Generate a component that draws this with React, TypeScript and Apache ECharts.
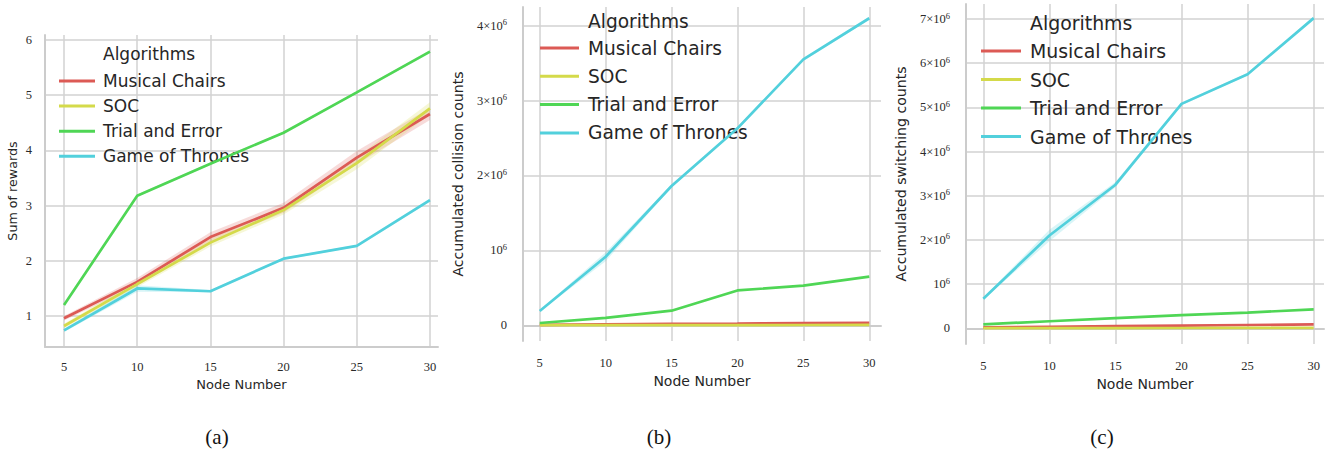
import React, { useEffect, useRef } from "react";
import * as echarts from "echarts";

// ---------- data ----------
const nodeNumbers = [5, 10, 15, 20, 25, 30];
const algorithms = ["Musical Chairs", "SOC", "Trial and Error", "Game of Thrones"];
const colors = ["#dc5a55", "#d4da4a", "#4fd655", "#52d0dc"];

// (a) Sum of rewards
const rewardsMC = [0.96, 1.62, 2.43, 2.96, 3.87, 4.66];
const rewardsSOC = [0.82, 1.58, 2.33, 2.92, 3.77, 4.76];
const rewardsTE = [1.2, 3.18, 3.76, 4.32, 5.05, 5.79];
const rewardsGoT = [0.74, 1.5, 1.45, 2.04, 2.27, 3.1];
const rewardsErrMC = [0.04, 0.07, 0.09, 0.09, 0.12, 0.11];
const rewardsErrSOC = [0.04, 0.06, 0.07, 0.08, 0.11, 0.11];
const rewardsErrTE = [0.02, 0.02, 0.02, 0.02, 0.02, 0.03];
const rewardsErrGoT = [0.03, 0.06, 0.02, 0.02, 0.02, 0.03];

// (b) Accumulated collision counts
const collisionMC = [5000, 12000, 18000, 22000, 28000, 33000];
const collisionSOC = [1500, 2000, 2500, 3000, 3500, 4000];
const collisionTE = [30000, 100000, 195000, 465000, 530000, 650000];
const collisionGoT = [190000, 915000, 1860000, 2630000, 3550000, 4100000];
const collisionErrGoT = [10000, 60000, 20000, 20000, 20000, 20000];

// (c) Accumulated switching counts
const switchingMC = [20000, 35000, 50000, 62000, 75000, 90000];
const switchingSOC = [4000, 5000, 6000, 7000, 8000, 9000];
const switchingTE = [90000, 160000, 230000, 300000, 355000, 430000];
const switchingGoT = [670000, 2100000, 3250000, 5080000, 5750000, 7020000];
const switchingErrGoT = [20000, 130000, 60000, 30000, 30000, 30000];

const xTicks = [5, 10, 15, 20, 25, 30];
const yTicksA = [1, 2, 3, 4, 5, 6];
const yTicksB = [0, 1e6, 2e6, 3e6, 4e6];
const yTicksC = [0, 1e6, 2e6, 3e6, 4e6, 5e6, 6e6, 7e6];

const captions = ["(a)", "(b)", "(c)"];

// ---------- helpers ----------
const pairs = (ys: number[]) => nodeNumbers.map((x, i) => [x, ys[i]]);

const TICK_FONT = "'Liberation Serif', 'DejaVu Serif', serif";
const SANS = "'DejaVu Sans', sans-serif";
const GRID_COLOR = "#d2d2d2";

function sciLabel(v: number) {
  if (Math.abs(v) < 1) return "{b|0}";
  const m = Math.round(v / 1e6);
  if (m === 1) return "{b|10}{s|6}";
  return `{b|${m}×10}{s|6}`;
}

function lineSeries(name: string, idx: number, ys: number[], color: string) {
  return {
    name,
    type: "line",
    xAxisIndex: idx,
    yAxisIndex: idx,
    data: pairs(ys),
    symbol: "none",
    lineStyle: { color, width: 2.7 },
    itemStyle: { color },
    z: 5,
  };
}

function bandSeries(idx: number, ys: number[], err: number[], color: string) {
  const rows = nodeNumbers.map((x, i) => [x, ys[i] - err[i], ys[i] + err[i]]);
  return {
    type: "custom",
    xAxisIndex: idx,
    yAxisIndex: idx,
    data: rows,
    silent: true,
    clip: true,
    z: 2,
    encode: { x: 0, y: [1, 2] },
    renderItem: (params: any, api: any) => {
      const i = params.dataIndex;
      if (i >= rows.length - 1) return null;
      const a = rows[i];
      const b = rows[i + 1];
      const pts = [
        api.coord([a[0], a[1]]),
        api.coord([b[0], b[1]]),
        api.coord([b[0], b[2]]),
        api.coord([a[0], a[2]]),
      ];
      return {
        type: "polygon",
        shape: { points: pts },
        style: { fill: color, opacity: 0.22 },
      };
    },
  };
}

const grids = [
  { left: 45, top: 35, width: 393, height: 312 },
  { left: 523, top: 7, width: 358, height: 334 },
  { left: 966, top: 4, width: 358, height: 340 },
];

const xRanges = [
  [3.7, 30.55],
  [3.73, 30.89],
  [3.69, 30.78],
];

const yRanges = [
  [0.44, 6.09],
  [-210000, 4250000],
  [-355000, 7340000],
];

const yNames = ["Sum of rewards", "Accumulated collision counts", "Accumulated switching counts"];
const yTicks = [yTicksA, yTicksB, yTicksC];

const legendCfg = [
  { left: 54, top: 66, itemWidth: 36, fontSize: 17, lineHeight: 20, gap: 5.1, pad: 3, titleX: 103, titleY: 54 },
  { left: 535, top: 32, itemWidth: 39, fontSize: 18.6, lineHeight: 22, gap: 6.3, pad: 4, titleX: 588, titleY: 21 },
  { left: 976, top: 35, itemWidth: 40, fontSize: 18.9, lineHeight: 22, gap: 6.5, pad: 4, titleX: 1030, titleY: 23 },
];

const captionX = [217, 659, 1102];

export default function App() {
  const ref = useRef<HTMLDivElement>(null);

  useEffect(() => {
    if (!ref.current) return;
    const chart = echarts.init(ref.current, undefined, { renderer: "svg" });

    const xAxes = grids.map((_, i) => ({
      type: "value",
      gridIndex: i,
      min: xRanges[i][0],
      max: xRanges[i][1],
      name: "Node Number",
      nameLocation: "middle",
      nameGap: i === 0 ? 29 : 33,
      nameTextStyle: { fontFamily: SANS, fontSize: i === 0 ? 13 : 14, color: "#262626" },
      axisLine: { show: true, lineStyle: { color: "#cccccc", width: 2 } },
      axisTick: { show: false, customValues: xTicks },
      axisLabel: {
        customValues: xTicks,
        fontFamily: TICK_FONT,
        fontSize: 12.5,
        color: "#2a2a2a",
        margin: i === 0 ? 13 : 15,
      },
      splitLine: { show: true, lineStyle: { color: GRID_COLOR, width: 1.5 } },
    }));

    const yAxes = grids.map((_, i) => ({
      type: "value",
      gridIndex: i,
      min: yRanges[i][0],
      max: yRanges[i][1],
      name: yNames[i],
      nameLocation: "middle",
      nameGap: i === 0 ? 26 : 58,
      nameTextStyle: { fontFamily: SANS, fontSize: i === 0 ? 12.7 : 14.1, color: "#262626" },
      axisLine: { show: true, lineStyle: { color: "#cccccc", width: 2 } },
      axisTick: { show: false, customValues: yTicks[i] },
      axisLabel: {
        customValues: yTicks[i],
        fontFamily: TICK_FONT,
        fontSize: 12.5,
        color: "#2a2a2a",
        margin: i === 0 ? 13 : 16,
        formatter: i === 0 ? (v: number) => String(v) : (v: number) => sciLabel(v),
        rich: {
          b: { fontFamily: TICK_FONT, fontSize: 12.5, color: "#2a2a2a", lineHeight: 16 },
          s: { fontFamily: TICK_FONT, fontSize: 8.5, color: "#2a2a2a", verticalAlign: "top", lineHeight: 16 },
        },
      },
      splitLine: { show: true, lineStyle: { color: GRID_COLOR, width: 1.5 } },
    }));

    const dataSets = [
      [rewardsMC, rewardsSOC, rewardsTE, rewardsGoT],
      [collisionMC, collisionSOC, collisionTE, collisionGoT],
      [switchingMC, switchingSOC, switchingTE, switchingGoT],
    ];

    const series: any[] = [];
    series.push(bandSeries(0, rewardsMC, rewardsErrMC, colors[0]));
    series.push(bandSeries(0, rewardsSOC, rewardsErrSOC, colors[1]));
    series.push(bandSeries(0, rewardsTE, rewardsErrTE, colors[2]));
    series.push(bandSeries(0, rewardsGoT, rewardsErrGoT, colors[3]));
    series.push(bandSeries(1, collisionGoT, collisionErrGoT, colors[3]));
    series.push(bandSeries(2, switchingGoT, switchingErrGoT, colors[3]));
    dataSets.forEach((set, gi) => {
      set.forEach((ys, ai) => {
        series.push(lineSeries(algorithms[ai], gi, ys, colors[ai]));
      });
    });

    const legends = legendCfg.map((c) => ({
      data: algorithms.map((name) => ({ name, icon: "rect" })),
      orient: "vertical",
      left: c.left,
      top: c.top,
      itemWidth: c.itemWidth,
      itemHeight: 3,
      itemGap: c.gap,
      selectedMode: false,
      textStyle: {
        fontFamily: SANS,
        fontSize: c.fontSize,
        lineHeight: c.lineHeight,
        color: "#262626",
        padding: [0, 0, 0, c.pad],
      },
    }));

    const graphics: any[] = [];
    legendCfg.forEach((c) => {
      graphics.push({
        type: "text",
        x: c.titleX,
        y: c.titleY,
        style: {
          text: "Algorithms",
          fontFamily: SANS,
          fontSize: c.fontSize,
          fill: "#262626",
          verticalAlign: "middle",
        },
        z: 100,
      });
    });
    captions.forEach((t, i) => {
      graphics.push({
        type: "text",
        x: captionX[i],
        y: 437,
        style: {
          text: t,
          fontFamily: TICK_FONT,
          fontSize: 21,
          fill: "#111",
          align: "center",
          verticalAlign: "middle",
        },
      });
    });

    chart.setOption({
      animation: false,
      backgroundColor: "#ffffff",
      grid: grids.map((g) => ({ ...g, containLabel: false })),
      xAxis: xAxes,
      yAxis: yAxes,
      legend: legends,
      series,
      graphic: graphics,
    });

    return () => chart.dispose();
  }, []);

  return (
    <div
      ref={ref}
      style={{ position: "fixed", left: 0, top: 0, width: 1333, height: 451, background: "#fff" }}
    />
  );
}
